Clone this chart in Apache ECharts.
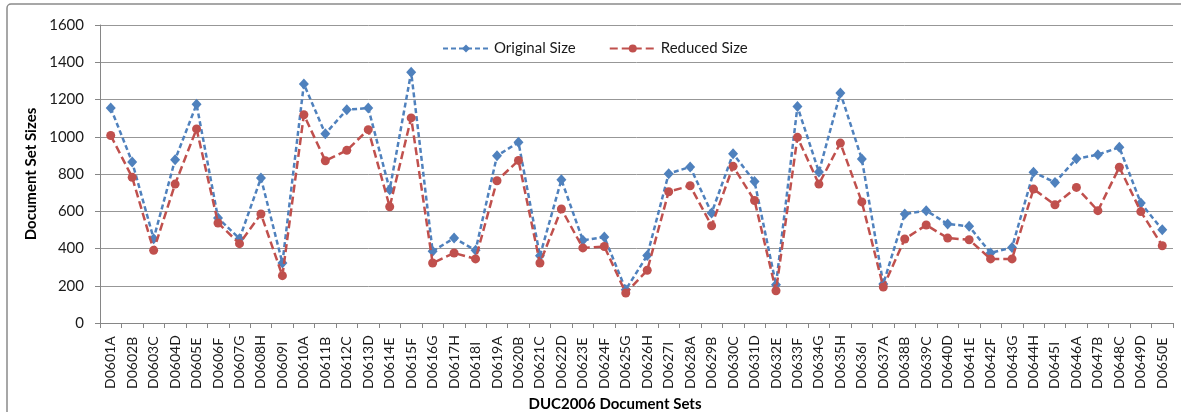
<!DOCTYPE html>
<html>
<head>
<meta charset="utf-8">
<title>DUC2006 Document Set Sizes</title>
<script src="https://cdn.jsdelivr.net/npm/echarts@6/dist/echarts.min.js"></script>
<style>
  html, body { margin: 0; padding: 0; background: #ffffff; }
  #chart { width: 1181px; height: 412px; }
</style>
</head>
<body>
<div id="chart"></div>
<script>
// Document set identifiers (x categories)
const documentSets = [
  'D0601A', 'D0602B', 'D0603C', 'D0604D', 'D0605E', 'D0606F', 'D0607G', 'D0608H', 'D0609I', 'D0610A',
  'D0611B', 'D0612C', 'D0613D', 'D0614E', 'D0615F', 'D0616G', 'D0617H', 'D0618I', 'D0619A', 'D0620B',
  'D0621C', 'D0622D', 'D0623E', 'D0624F', 'D0625G', 'D0626H', 'D0627I', 'D0628A', 'D0629B', 'D0630C',
  'D0631D', 'D0632E', 'D0633F', 'D0634G', 'D0635H', 'D0636I', 'D0637A', 'D0638B', 'D0639C', 'D0640D',
  'D0641E', 'D0642F', 'D0643G', 'D0644H', 'D0645I', 'D0646A', 'D0647B', 'D0648C', 'D0649D', 'D0650E'
];

// Size of each set before reduction
const originalSize = [
  1154, 864, 453, 877, 1174, 564, 453, 778, 322, 1283,
  1016, 1145, 1154, 716, 1346, 385, 456, 390, 898, 970,
  361, 769, 444, 462, 179, 363, 802, 838, 591, 909,
  760, 206, 1162, 811, 1235, 880, 210, 585, 603, 532,
  519, 376, 406, 809, 755, 882, 904, 943, 644, 501
];

// Size of each set after reduction
const reducedSize = [
  1007, 782, 390, 746, 1042, 537, 426, 585, 254, 1118,
  871, 927, 1038, 624, 1101, 322, 376, 344, 764, 873,
  322, 612, 403, 411, 161, 283, 705, 737, 522, 841,
  658, 173, 997, 746, 966, 650, 193, 451, 526, 456,
  447, 344, 344, 719, 635, 728, 603, 836, 598, 415
];

const seriesNames = ['Original Size', 'Reduced Size'];
const yTicks = { min: 0, max: 1600, interval: 200 };

const FONT = 'Lato, "Liberation Sans", sans-serif';
const BLUE = '#4F81BD';
const RED = '#C0504D';
const AXIS_GRAY = '#868686';

const chart = echarts.init(document.getElementById('chart'), null, { renderer: 'canvas' });

chart.setOption({
  animation: false,
  backgroundColor: '#ffffff',
  textStyle: { fontFamily: FONT, color: '#1a1a1a' },
  graphic: [{
    type: 'rect',
    shape: { x: 7, y: 4, width: 1200, height: 460, r: 4 },
    style: { fill: 'none', stroke: '#8a8a8a', lineWidth: 1.5 },
    silent: true,
    z: -10
  }],
  legend: {
    data: seriesNames,
    left: 437,
    top: 36,
    itemGap: 33,
    itemWidth: 46,
    itemHeight: 10,
    textStyle: { fontFamily: FONT, fontSize: 15, color: '#1a1a1a' }
  },
  grid: { left: 100, right: 8, top: 25, bottom: 89, containLabel: false, outerBoundsMode: 'none' },
  xAxis: {
    type: 'category',
    data: documentSets,
    boundaryGap: true,
    name: 'DUC2006 Document Sets',
    nameLocation: 'middle',
    nameGap: 71,
    nameTextStyle: { fontFamily: FONT, fontSize: 15, fontWeight: 'bold', color: '#000', padding: [0, 43, 0, 0] },
    axisLine: { lineStyle: { color: AXIS_GRAY, width: 1 } },
    axisTick: { show: true, alignWithLabel: false, length: 5, lineStyle: { color: AXIS_GRAY } },
    axisLabel: {
      interval: 0,
      rotate: 90,
      align: 'left',
      verticalAlign: 'middle',
      margin: 66,
      fontFamily: FONT,
      fontSize: 14,
      color: '#1a1a1a'
    },
    splitLine: { show: false }
  },
  yAxis: {
    type: 'value',
    min: yTicks.min,
    max: yTicks.max,
    interval: yTicks.interval,
    name: 'Document Set Sizes',
    nameLocation: 'middle',
    nameGap: 60,
    nameTextStyle: { fontFamily: FONT, fontSize: 15, fontWeight: 'bold', color: '#000' },
    axisLine: { show: true, lineStyle: { color: AXIS_GRAY, width: 1 } },
    axisTick: { show: true, length: 5, lineStyle: { color: AXIS_GRAY } },
    axisLabel: {
      margin: 16,
      fontFamily: FONT,
      fontSize: 15,
      color: '#1a1a1a',
      formatter: (v) => String(v)
    },
    splitLine: { show: true, lineStyle: { color: '#979797', width: 1 } }
  },
  series: [
    {
      name: seriesNames[0],
      type: 'line',
      data: originalSize,
      symbol: 'diamond',
      symbolSize: [10, 11],
      showAllSymbol: true,
      itemStyle: { color: BLUE, borderWidth: 0 },
      lineStyle: { color: BLUE, width: 2.5, type: [5, 3] },
      z: 2
    },
    {
      name: seriesNames[1],
      type: 'line',
      data: reducedSize,
      symbol: 'circle',
      symbolSize: 9,
      showAllSymbol: true,
      itemStyle: { color: RED, borderWidth: 0 },
      lineStyle: { color: RED, width: 2.5, type: [8, 4] },
      z: 3
    }
  ]
});
</script>
</body>
</html>
